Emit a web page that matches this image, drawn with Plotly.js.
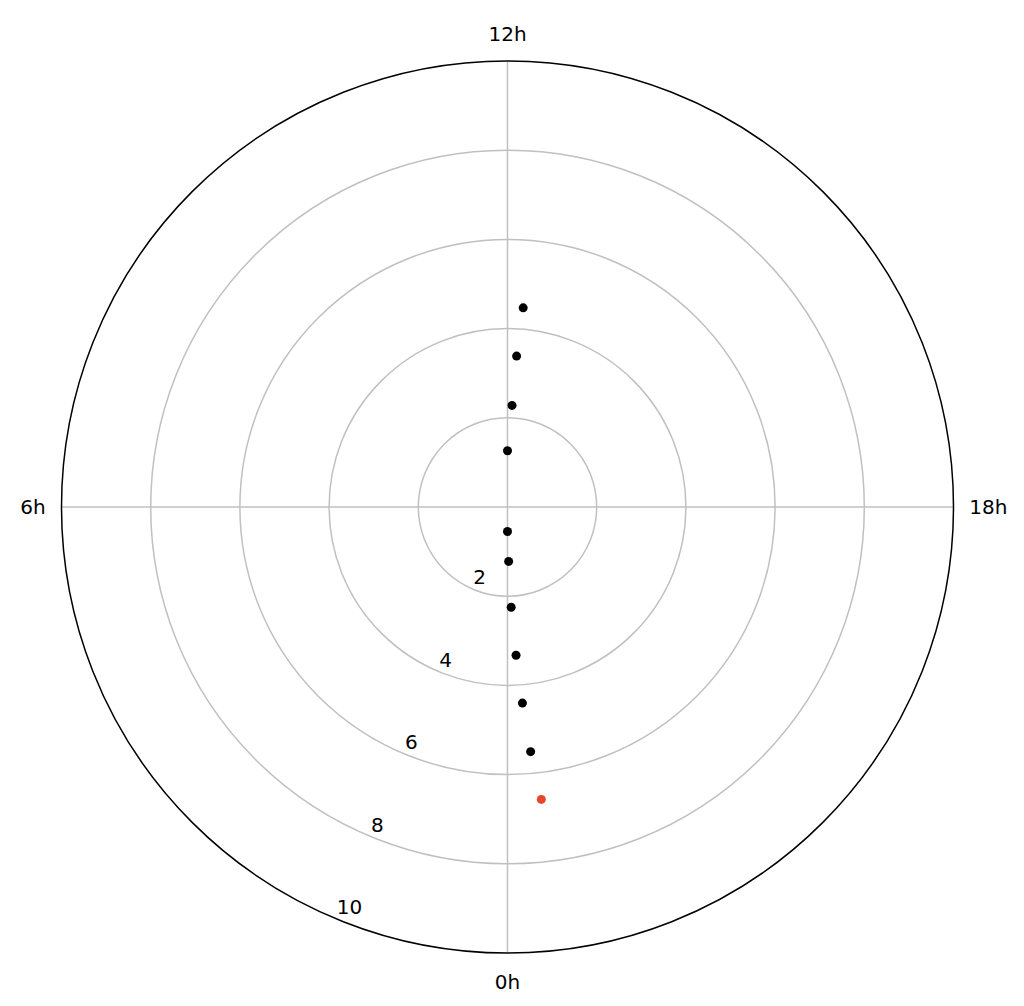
<!DOCTYPE html>
<html>
<head>
<meta charset="utf-8">
<script src="https://cdn.plot.ly/plotly-3.0.1.min.js"></script>
<style>html,body{margin:0;padding:0;background:#fff;}#chart{width:1024px;height:1006px;}</style>
</head>
<body>
<div id="chart"></div>
<script>
// Data (angle in hours of a 24h clock, radius in axis units)
const blackHours = [12.30, 12.23, 12.17, 12.00, 0.00, 23.92, 23.86, 23.78, 23.71, 23.64];
const blackR     = [4.48, 3.39, 2.28, 1.26, 0.55, 1.22, 2.25, 3.33, 4.41, 5.51];
const redHours   = [23.56];
const redR       = [6.60];
const angleTickHours = [0, 6, 12, 18];
const angleTickText  = ['0h', '6h', '12h', '18h'];
const radialTicks    = [2, 4, 6, 8, 10];
const radialLabelHour = 1.5;   // radial tick labels sit along the 1.5h direction

const toDeg = h => h * 15;

const traces = [
  {type: 'scatterpolar', mode: 'markers', r: blackR, theta: blackHours.map(toDeg),
   marker: {color: '#000000', size: 9}, hoverinfo: 'skip', showlegend: false},
  {type: 'scatterpolar', mode: 'markers', r: redR, theta: redHours.map(toDeg),
   marker: {color: '#e8452c', size: 9}, hoverinfo: 'skip', showlegend: false},
  // radial axis tick labels
  {type: 'scatterpolar', mode: 'text', r: radialTicks,
   theta: radialTicks.map(() => toDeg(radialLabelHour)),
   text: radialTicks.map(String), textposition: 'top right',
   textfont: {family: 'DejaVu Sans', size: 20, color: '#000000'},
   hoverinfo: 'skip', showlegend: false, cliponaxis: false}
];

const layout = {
  width: 1024, height: 1006,
  margin: {l: 61, r: 70, t: 61, b: 53},
  paper_bgcolor: '#ffffff',
  font: {family: 'DejaVu Sans', size: 20, color: '#000000'},
  showlegend: false,
  polar: {
    bgcolor: '#ffffff',
    radialaxis: {
      range: [0, 10], tickvals: radialTicks, showticklabels: false,
      angle: 247.5, showline: false, ticks: '',
      gridcolor: '#c0c0c0', gridwidth: 1.5
    },
    angularaxis: {
      rotation: 270, direction: 'clockwise', thetaunit: 'degrees',
      tickvals: angleTickHours.map(toDeg), ticktext: angleTickText,
      showline: true, linecolor: '#000000', linewidth: 1.5,
      gridcolor: '#c0c0c0', gridwidth: 1.5,
      ticks: 'outside', ticklen: 11, tickcolor: 'rgba(0,0,0,0)',
      tickfont: {family: 'DejaVu Sans', size: 20, color: '#000000'}
    }
  }
};

Plotly.newPlot('chart', traces, layout, {staticPlot: true, displayModeBar: false});
</script>
</body>
</html>
